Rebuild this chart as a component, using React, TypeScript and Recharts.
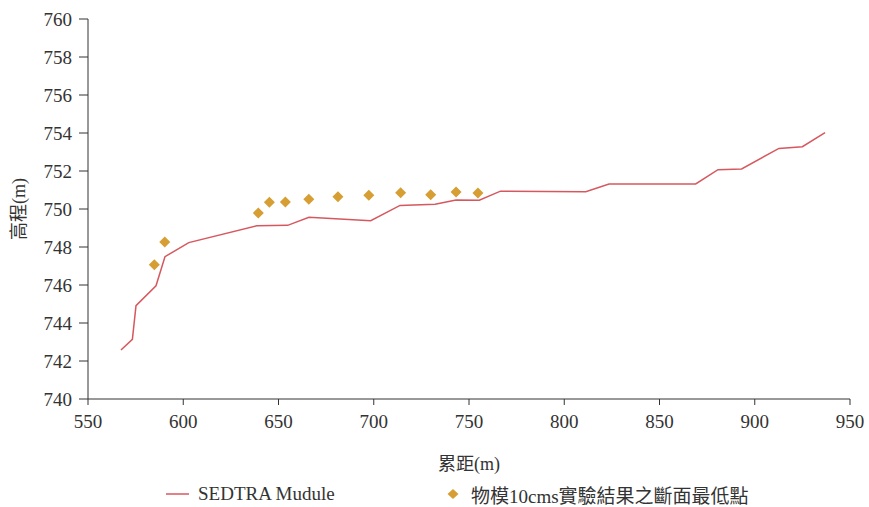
import React from "react";
import { ComposedChart, Line, Scatter, XAxis, YAxis, Legend } from "recharts";

// SEDTRA model profile (cumulative distance, elevation)
const modelDistance = [567.3, 573.3, 575.2, 585.7, 590.4, 602.9, 638.6, 654.8, 666.0, 698.4, 713.8, 732.2, 743.2, 755.4, 766.5, 811.3, 823.5, 869.0, 880.7, 893.1, 912.7, 925.0, 936.9];
const modelElevation = [742.58, 743.14, 744.91, 745.96, 747.49, 748.23, 749.12, 749.14, 749.56, 749.38, 750.19, 750.25, 750.47, 750.46, 750.94, 750.91, 751.32, 751.32, 752.07, 752.11, 753.19, 753.28, 754.02];

// Physical model 10cms lowest points
const expDistance = [584.8, 590.3, 639.4, 645.2, 653.6, 665.9, 681.2, 697.4, 714.1, 729.9, 743.2, 754.7];
const expElevation = [747.07, 748.26, 749.79, 750.35, 750.37, 750.51, 750.65, 750.72, 750.86, 750.75, 750.89, 750.84];

const xTicks = [550, 600, 650, 700, 750, 800, 850, 900, 950];
const yTicks = [740, 742, 744, 746, 748, 750, 752, 754, 756, 758, 760];

const lineName = "SEDTRA Mudule";
const pointName = "物模10cms實驗結果之斷面最低點";
const xTitle = "累距(m)";
const yTitle = "高程(m)";

const lineData = modelDistance.map((x, i) => ({ x, y: modelElevation[i] }));
const pointData = expDistance.map((x, i) => ({ x, y: expElevation[i] }));

const LINE_COLOR = "#d6585f";
const POINT_COLOR = "#d69e33";
const AXIS_COLOR = "#333333";
const FONT = '"Liberation Serif", "Noto Sans CJK TC", serif';

const Diamond = (props: any) => {
  const { cx, cy } = props;
  if (cx == null || cy == null) return null;
  const r = 5.5;
  return (
    <polygon
      points={`${cx},${cy - r} ${cx + r},${cy} ${cx},${cy + r} ${cx - r},${cy}`}
      fill={POINT_COLOR}
    />
  );
};

const legendLefts = [166, 447];

const LegendContent = (props: any) => {
  const payload = props.payload || [];
  return (
    <div style={{ position: "relative", width: 869, height: 24, fontFamily: FONT, fontSize: 19, color: "#333" }}>
      {payload.map((entry: any, i: number) => {
        const isLine = entry.value === lineName;
        return (
          <div
            key={i}
            style={{ position: "absolute", left: legendLefts[i] ?? 0, top: 0, height: 24, display: "flex", alignItems: "center", whiteSpace: "nowrap" }}
          >
            {isLine ? (
              <svg width={24} height={24} style={{ marginRight: 8 }}>
                <line x1={0} y1={12} x2={23} y2={12} stroke={LINE_COLOR} strokeWidth={1.5} />
              </svg>
            ) : (
              <svg width={12} height={24} style={{ marginRight: 12 }}>
                <polygon points="6,7 11.5,12 6,17 0.5,12" fill={POINT_COLOR} />
              </svg>
            )}
            <span>{entry.value}</span>
          </div>
        );
      })}
    </div>
  );
};

const YTitle = (props: any) => {
  const vb = props.viewBox || {};
  const cx = 19;
  const cy = (vb.y ?? 19) + (vb.height ?? 380) / 2;
  return (
    <text
      x={cx}
      y={cy}
      transform={`rotate(-90, ${cx}, ${cy})`}
      textAnchor="middle"
      dominantBaseline="central"
      fontSize={18}
      fill="#333"
    >
      {yTitle}
    </text>
  );
};

const XTitle = (props: any) => {
  const vb = props.viewBox || {};
  const cx = (vb.x ?? 88) + (vb.width ?? 762) / 2;
  return (
    <text x={cx} y={464} textAnchor="middle" dominantBaseline="central" fontSize={18} fill="#333">
      {xTitle}
    </text>
  );
};

const tickStyle = { fill: "#333", fontSize: 19 };

const css = `.chart-root svg text { font-family: "Liberation Serif", "Noto Sans CJK TC", serif !important; }`;

export default function App() {
  return (
    <div className="chart-root" style={{ position: "absolute", left: 0, top: 0, width: 869, height: 507, fontFamily: FONT }}>
      <style>{css}</style>
      <ComposedChart width={869} height={507} margin={{ top: 19, right: 19, left: 0, bottom: 0 }}>
        <XAxis
          dataKey="x"
          type="number"
          domain={[550, 950]}
          ticks={xTicks}
          allowDataOverflow
          height={84}
          tickSize={6}
          tickMargin={10}
          stroke={AXIS_COLOR}
          tick={tickStyle}
          label={<XTitle />}
        />
        <YAxis
          dataKey="y"
          type="number"
          domain={[740, 760]}
          ticks={yTicks}
          allowDataOverflow
          width={88}
          tickSize={9}
          tickMargin={7}
          stroke={AXIS_COLOR}
          tick={tickStyle}
          label={<YTitle />}
        />
        <Legend
          verticalAlign="bottom"
          align="left"
          content={<LegendContent />}
          wrapperStyle={{ left: 0, top: 482, width: 869, height: 24 }}
        />
        <Line
          data={lineData}
          dataKey="y"
          name={lineName}
          type="linear"
          stroke={LINE_COLOR}
          strokeWidth={1.5}
          dot={false}
          activeDot={false}
          isAnimationActive={false}
        />
        <Scatter
          data={pointData}
          dataKey="y"
          name={pointName}
          fill={POINT_COLOR}
          shape={<Diamond />}
          isAnimationActive={false}
        />
      </ComposedChart>
    </div>
  );
}
